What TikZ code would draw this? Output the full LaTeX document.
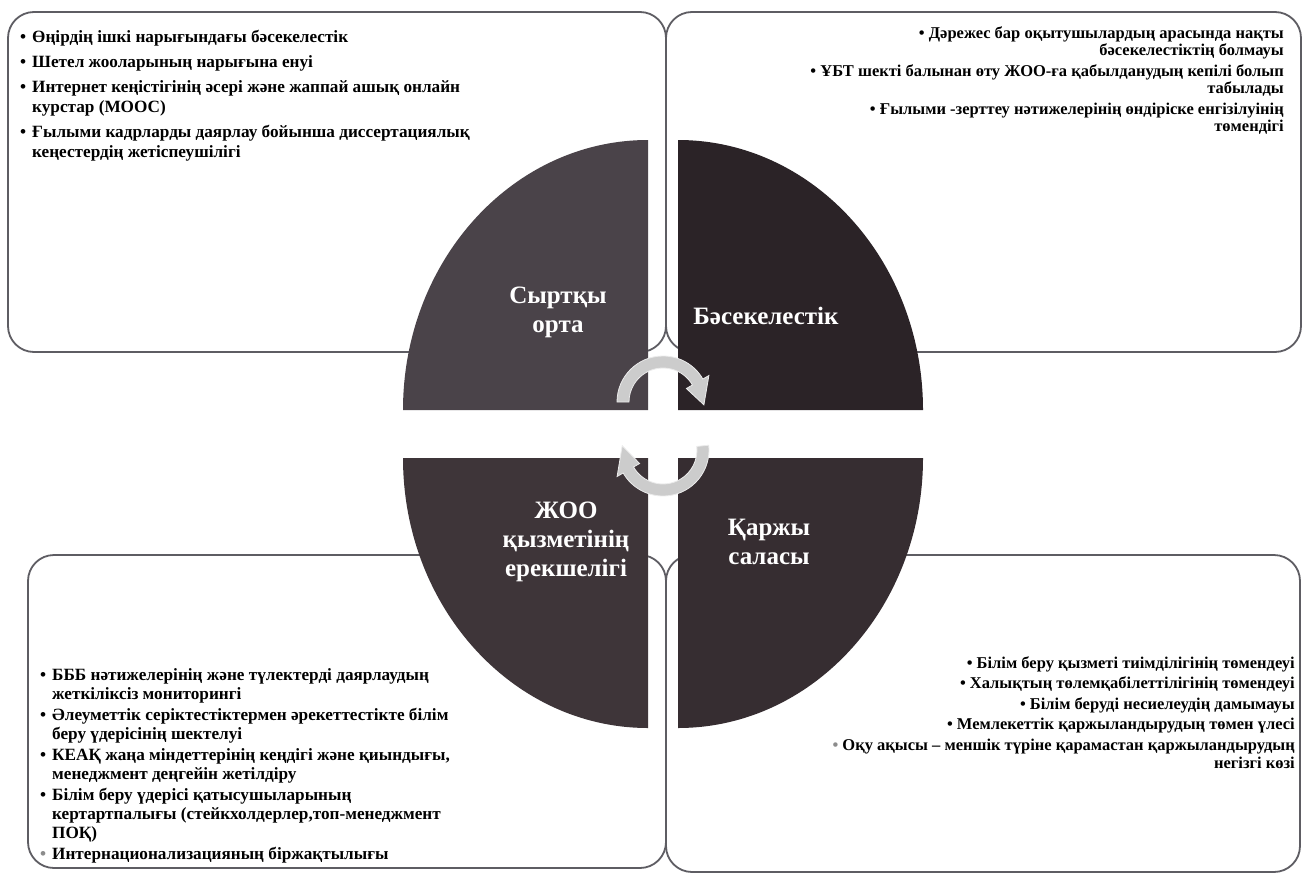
\documentclass[tikz,border=0pt]{standalone}
\usepackage{fontspec}
\setmainfont{Liberation Serif}

\definecolor{edge}{HTML}{5E5D63}
\definecolor{wtl}{HTML}{4A4349}
\definecolor{wtr}{HTML}{2B2327}
\definecolor{wbl}{HTML}{3E3539}
\definecolor{wbr}{HTML}{362D31}

\newcommand{\bul}{\makebox[12pt][l]{•}}
\newcommand{\ind}{\hspace*{12pt}}

\tikzset{
  x=1pt, y=1pt,
  panel/.style={draw=edge, line width=1.8pt, fill=white, rounded corners=26pt},
  txt/.style 2 args={inner sep=0pt, font=\bfseries\fontsize{#1}{#2}\selectfont},
  lbl/.style={text=white, align=center, font=\bfseries\fontsize{25}{29}\selectfont},
  cyc/.style={fill=black!20, draw=black!8, line width=0.8pt}
}

\begin{document}
\begin{tikzpicture}
            \useasboundingbox (0,0) rectangle (1303,-875);

            % corner boxes
            \draw[panel] (666,-12) rectangle (1301,-352);
            \draw[panel] (8,-12) rectangle (666,-352);
            \draw[panel] (666,-555) rectangle (1300,-872);
            \draw[panel] (28,-555) rectangle (666,-868);

            % wedges
            \fill[wtl] (648,-410) -- ++(-245,0) arc[start angle=180, end angle=90, x radius=245, y radius=270] -- cycle;
            \fill[wtr] (678,-410) -- ++(0,270) arc[start angle=90, end angle=0, x radius=245, y radius=270] -- cycle;
            \fill[wbl] (648,-458) -- ++(-245,0) arc[start angle=180, end angle=270, x radius=245, y radius=270] -- cycle;
            \fill[wbr] (678,-458) -- ++(245,0) arc[start angle=0, end angle=-90, x radius=245, y radius=270] -- cycle;

            % cycle arrows
            \begin{scope}[shift={(663,-402)}]
                \filldraw[cyc] (180:46) arc[start angle=180, end angle=30, radius=46]
                    -- (30:53) -- (-4:41) -- (30:27) -- (30:34)
                    arc[start angle=30, end angle=180, radius=34] -- cycle;
            \end{scope}
            \begin{scope}[shift={(663,-450)}]
                \filldraw[cyc] (6:46) arc[start angle=6, end angle=-150, radius=46]
                    -- (-150:53) -- (-186:41) -- (-150:27) -- (-150:34)
                    arc[start angle=-150, end angle=6, radius=34] -- cycle;
            \end{scope}

            % wedge labels
            \node[lbl] (l1) at (558,-312) {Сыртқы\\орта};
            \node[lbl] (l2) at (766,-316) {Бәсекелестік};
            \node[lbl] (l3) at (566,-542) {ЖОО\\қызметінің\\ерекшелігі};
            \node[lbl] (l4) at (769,-542) {Қаржы\\саласы};

            % box texts
            \node[txt={17.2}{20}, anchor=north west, align=left] (t1) at (20,-30) {%
                \bul Өңірдің ішкі нарығындағы бәсекелестік\\[5pt]
                \bul Шетел жооларының нарығына енуі\\[5pt]
                \bul Интернет кеңістігінің әсері және жаппай ашық онлайн\\
                \ind курстар (МООС)\\[5pt]
                \bul Ғылыми кадрларды даярлау бойынша диссертациялық\\
                \ind кеңестердің жетіспеушілігі};
            \node[txt={16.5}{17}, anchor=north east, align=right] (t2) at (1284,-26) {%
                • Дәрежес бар оқытушылардың арасында нақты\\
                бәсекелестіктің болмауы\\[4pt]
                • ҰБТ шекті балынан өту ЖОО-ға қабылданудың кепілі болып\\
                табылады\\[4pt]
                • Ғылыми -зерттеу нәтижелерінің өндіріске енгізілуінің\\
                төмендігі};
            \node[txt={17.2}{19}, anchor=north west, align=left] (t3) at (40,-668) {%
                \bul БББ нәтижелерінің және түлектерді даярлаудың\\
                \ind жеткіліксіз мониторингі\\[2pt]
                \bul Әлеуметтік серіктестіктермен әрекеттестікте білім\\
                \ind беру үдерісінің шектелуі\\[2pt]
                \bul КЕАҚ жаңа міндеттерінің кеңдігі және қиындығы,\\
                \ind менеджмент деңгейін жетілдіру\\[2pt]
                \bul Білім беру үдерісі қатысушыларының\\
                \ind кертартпалығы (стейкхолдерлер,топ-менеджмент\\
                \ind ПОҚ)\\[2pt]
                \textcolor{black!45}{\bul}Интернационализацияның біржақтылығы};
            \node[txt={16.5}{18}, anchor=north east, align=right] (t4) at (1295,-656) {%
                • Білім беру қызметі тиімділігінің төмендеуі\\[2.5pt]
                • Халықтың төлемқабілеттілігінің төмендеуі\\[2.5pt]
                • Білім беруді несиелеудің дамымауы\\[2.5pt]
                • Мемлекеттік қаржыландырудың төмен үлесі\\[2.5pt]
                \textcolor{black!45}{•} Оқу ақысы – меншік түріне қарамастан қаржыландырудың\\
                негізгі көзі};
        \end{tikzpicture}
\end{document}
